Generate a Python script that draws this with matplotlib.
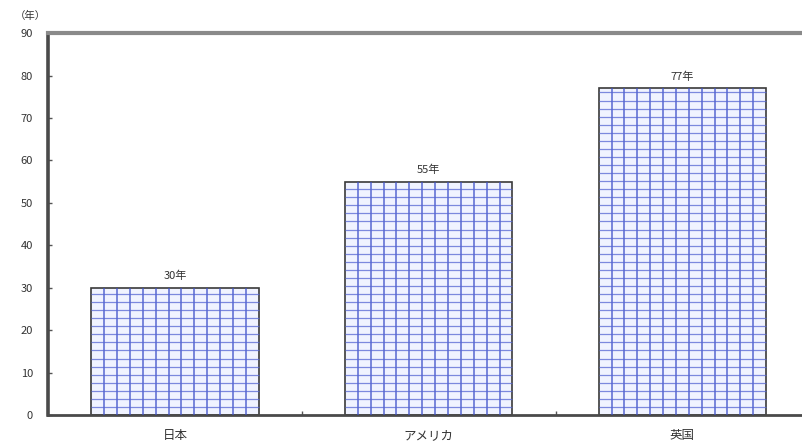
import numpy as np
import matplotlib
matplotlib.use('Agg')
import matplotlib.pyplot as plt

plt.rcParams['font.family'] = ['Noto Sans CJK JP', 'DejaVu Sans']

countries = ['日本', 'アメリカ', '英国']
years = [30, 55, 77]
value_labels = ['30年', '55年', '77年']
yticks = [0, 10, 20, 30, 40, 50, 60, 70, 80, 90]

fig = plt.figure(figsize=(8.02, 4.41), dpi=100)
ax = fig.add_axes([0.06, 0.059, 0.949, 0.866])

x = np.arange(len(countries))
bars = ax.bar(x, years, width=0.66, color='#f0f3ff', edgecolor='#3a3a3a',
              linewidth=1.2, zorder=2)

# blue grid pattern inside each bar
for rect in bars:
    x0 = rect.get_x()
    x1 = x0 + rect.get_width()
    h = rect.get_height()
    ax.vlines(np.linspace(x0, x1, 14)[1:-1], 0, h, color='#3e50c8',
              linewidth=1.1, alpha=0.85, zorder=3)
    ax.hlines(np.arange(1.9, h, 1.9), x0, x1, color='#5566d4',
              linewidth=0.9, alpha=0.75, zorder=3)

for xi, v, lab in zip(x, years, value_labels):
    ax.text(xi, v + 1.5, lab, ha='center', va='bottom', fontsize=8,
            color='#333333')

ax.set_xlim(-0.5, 2.5)
ax.set_ylim(0, 90)
ax.set_yticks(yticks)
ax.set_yticklabels([str(t) for t in yticks], fontsize=8, color='#333333')
ax.tick_params(axis='y', direction='in', length=3, width=1, color='#555555', pad=11)

ax.set_xticks([0.5, 1.5])
ax.set_xticklabels([])
ax.tick_params(axis='x', direction='in', length=3, width=1, color='#555555')
ax.set_xticks(x, minor=True)
ax.set_xticklabels(countries, minor=True, fontsize=9, color='#333333')
ax.tick_params(axis='x', which='minor', length=0, pad=10)

ax.spines['left'].set_color('#4a4a4a')
ax.spines['left'].set_linewidth(2.6)
ax.spines['bottom'].set_color('#4a4a4a')
ax.spines['bottom'].set_linewidth(2.0)
ax.spines['top'].set_color('#8a8a8a')
ax.spines['top'].set_linewidth(3.0)
ax.spines['right'].set_visible(False)

fig.text(0.018, 0.963, '（年）', fontsize=7.5, color='#333333', va='center')

fig.savefig('out.png', dpi=100)
